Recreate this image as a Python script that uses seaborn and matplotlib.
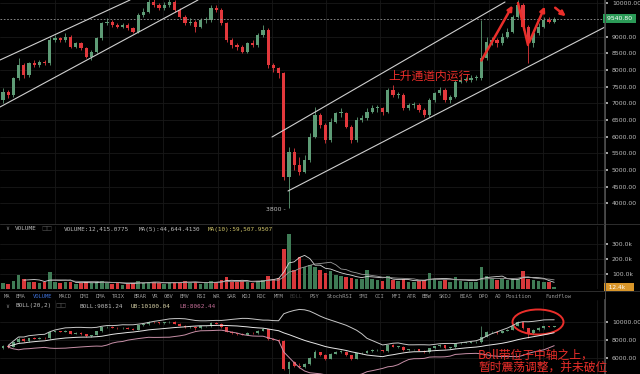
import matplotlib.pyplot as plt
import matplotlib.ticker as mticker
import numpy as np
import pandas as pd
import seaborn as sns
from matplotlib.lines import Line2D
from matplotlib.patches import Ellipse

# ---- data (daily candles, BTC/USDT) ----
first_open = 7100
closes = [7350, 7250, 7750, 8150, 7850, 8200, 8150, 8250, 8200, 8900,
          8950, 8900, 9000, 8700, 8800, 8650, 8400, 8550, 8950, 9400,
          9450, 9350, 9300, 9350, 9250, 9150, 9650, 9750, 10050, 9950,
          9850, 9950, 10050, 9800, 9600, 9400, 9450, 9300, 9500, 9500,
          9850, 9800, 9400, 8900, 8750, 8700, 8550, 8800, 8750, 9050,
          9200, 8150, 8050, 7900, 4800, 5550, 5150, 4950, 5300, 6000,
          6650, 6350, 5900, 6450, 6700, 6700, 6300, 5900, 6500, 6550,
          6750, 6850, 6850, 6750, 7400, 7250, 7250, 6850, 6950, 6950,
          6800, 6650, 7100, 7300, 7400, 7100, 7200, 7650, 7700, 7700,
          7750, 7750, 8350, 8850, 8900, 8800, 9000, 9150, 9600, 9950,
          9300, 8800, 9100, 9300, 9500, 9450, 9540.8]
highs = [7450, 7400, 7800, 8350, 8200, 8250, 8300, 8300, 8300, 9000,
         9050, 9000, 9100, 9050, 8850, 8850, 8700, 8600, 9000, 9450,
         9550, 9500, 9400, 9400, 9400, 9300, 9700, 9850, 10150, 10150,
         10000, 10050, 10150, 10100, 9850, 9650, 9550, 9500, 9550, 9600,
         9950, 9950, 9850, 9450, 8950, 8800, 8750, 8850, 8900, 9100,
         9350, 9250, 8200, 8100, 7950, 5700, 5650, 5400, 5450, 6100,
         6900, 6700, 6400, 6550, 6750, 6850, 6750, 6350, 6600, 6650,
         6850, 6950, 6950, 6900, 7450, 7550, 7350, 7300, 7000, 7050,
         7000, 6850, 7150, 7350, 7500, 7450, 7250, 7700, 7800, 7800,
         7850, 7850, 9500, 9000, 9000, 8950, 9100, 9250, 9650, 10100,
         10000, 9350, 9200, 9400, 9600, 9600, 9600]
lows = [7000, 7150, 7200, 7700, 7750, 7800, 8100, 8100, 8150, 8150,
        8850, 8850, 8850, 8650, 8650, 8600, 8350, 8300, 8500, 8900,
        9350, 9300, 9250, 9250, 9200, 9100, 9100, 9600, 9700, 9900,
        9800, 9800, 9900, 9750, 9550, 9350, 9350, 9150, 9250, 9400,
        9450, 9750, 9350, 8850, 8650, 8600, 8500, 8500, 8700, 8700,
        9000, 8050, 7950, 7750, 4700, 3850, 5000, 4850, 4900, 5250,
        5950, 6250, 5800, 5850, 6400, 6600, 6250, 5800, 5850, 6450,
        6500, 6700, 6750, 6650, 6700, 7200, 7150, 6800, 6800, 6850,
        6750, 6600, 6600, 7050, 7250, 7050, 7000, 7150, 7600, 7650,
        7650, 7700, 7700, 8300, 8750, 8700, 8750, 8950, 9100, 9550,
        9200, 8200, 8700, 9050, 9250, 9400, 9400]
volumes_k = [40, 35, 55, 95, 70, 50, 45, 40, 45, 115,
             50, 40, 45, 50, 35, 40, 45, 40, 50, 55,
             40, 35, 40, 30, 35, 40, 55, 40, 45, 50,
             40, 35, 40, 45, 50, 55, 40, 45, 35, 40,
             55, 45, 60, 80, 50, 45, 55, 50, 40, 55,
             60, 90, 70, 75, 265, 370, 125, 215, 145, 160,
             150, 125, 110, 120, 95, 90, 80, 75, 70, 65,
             125, 70, 60, 55, 85, 60, 55, 65, 50, 50,
             55, 60, 105, 70, 55, 60, 50, 80, 55, 50,
             45, 50, 145, 90, 70, 60, 65, 60, 65, 70,
             120, 70, 60, 55, 50, 45, 12.4]

# 9500 sits under the last-price tag, so it is not labelled
price_ticks = [4000, 4500, 5000, 5500, 6000, 6500, 7000, 7500, 8000, 8500, 9000, 10000]
vol_ticks = [100000, 200000, 300000]
boll_ticks = [6000, 8000, 10000]
last_price = 9540.80
last_volume = 12400
low_mark = 3800

tab_names = ["MA", "EMA", "VOLUME", "MACD", "DMI", "DMA", "TRIX", "BRAR", "VR", "OBV",
             "EMV", "RSI", "WR", "SAR", "KDJ", "ROC", "MTM", "BOLL", "PSY", "StochRSI",
             "SMI", "CCI", "MFI", "ATR", "BBW", "SKDJ", "BIAS", "DPO", "AO", "Position",
             "Fundflow"]
tab_px = [4, 16, 33, 59, 80, 96, 112, 133, 152, 164,
          180, 197, 213, 227, 242, 257, 274, 290, 310, 327,
          359, 375, 392, 407, 422, 439, 459, 479, 495, 506,
          545]

# ---- pixel helpers (layout only) ----
STEP, X0 = 5.2, 3.0
def px_i(px):
    return (px - X0) / STEP

def py_main(py):
    return 4000 + (203.3 - py) * 30

def fx(px):
    return px / 640

def fy(py):
    return 1 - py / 374

UP, DOWN = "#5e9c76", "#e2383c"
VUP, VDOWN = "#3f7c56", "#d8383b"
RED = "#ea2e2a"
TXT = "#bdbdbd"
CJK = ["Noto Sans CJK SC", "DejaVu Sans"]
MONO = "DejaVu Sans Mono"

df = pd.DataFrame({"close": closes, "high": highs, "low": lows,
                   "volume": np.array(volumes_k) * 1000})
df["open"] = [first_open] + closes[:-1]
df["up"] = df["close"] >= df["open"]

sns.set_theme(style="dark", rc={
    "figure.facecolor": "black", "axes.facecolor": "black",
    "axes.edgecolor": "#3a3a3a", "grid.color": "#181818",
    "axes.grid": True, "grid.linewidth": 0.6,
})
plt.rcParams["font.family"] = ["DejaVu Sans"]

fig = plt.figure(figsize=(6.4, 3.74), dpi=100)
ax = fig.add_axes([0, fy(225), fx(605), 225 / 374])
ax_v = fig.add_axes([0, fy(289), fx(605), 63 / 374])
ax_b = fig.add_axes([0, 0, fx(605), 74 / 374])

xlim = (px_i(0), px_i(605))
grid_x = [px_i(p) for p in np.arange(55, 600, 54.2)]


def draw_candles(a, body_w, wick_lw, min_h):
    colors = np.where(df["up"], UP, DOWN)
    a.vlines(df.index, df["low"], df["high"], colors=colors, linewidth=wick_lw)
    bottom = df[["open", "close"]].min(axis=1)
    height = (df["close"] - df["open"]).abs().clip(lower=min_h)
    a.bar(df.index, height, bottom=bottom, width=body_w, color=colors, linewidth=0)


def style_axis(a, ylim, ticks, fmt):
    a.set_xlim(*xlim)
    a.set_ylim(*ylim)
    a.set_xticks(grid_x)
    a.set_yticks(ticks)
    a.yaxis.set_major_formatter(mticker.FuncFormatter(fmt))
    a.yaxis.tick_right()
    a.set_xlabel("")
    a.set_ylabel("")
    a.tick_params(axis="x", labelbottom=False, length=0)
    a.tick_params(axis="y", colors=TXT, labelsize=4.4, length=2, pad=3,
                  labelcolor=TXT)
    for s in ("left", "top", "bottom"):
        a.spines[s].set_visible(False)
    a.spines["right"].set_color("#4a4a4a")
    a.grid(True, color="#181818", linewidth=0.6)


# ---- main price panel ----
draw_candles(ax, 0.62, 0.6, 25)
style_axis(ax, (py_main(225), py_main(0)), price_ticks, lambda v, p: f"{v:.2f}")
ax.axhline(last_price, color="#9a9a9a", linewidth=0.6, linestyle=(0, (2, 2)))
ax.text(1.0, last_price, " 9540.80 ", transform=ax.get_yaxis_transform(),
        fontsize=4.4, color="white", va="center", ha="left",
        bbox=dict(facecolor="#2b9a57", edgecolor="none", pad=1.2), clip_on=False)

# channel lines
channel = [((0, 60), (130, 0)), ((0, 107), (198, 0)),
           ((272, 137), (505, 2)), ((288, 191), (605, 27))]
for (x1, y1), (x2, y2) in channel:
    ax.plot([px_i(x1), px_i(x2)], [py_main(y1), py_main(y2)],
            color="#cfcfcf", linewidth=0.8)

# red zig-zag arrows
arr = dict(arrowstyle="-|>", color=RED, lw=1.8, mutation_scale=7)
ax.annotate("", xy=(px_i(514), py_main(3)), xytext=(px_i(480), py_main(63)),
            arrowprops=arr)
ax.plot([px_i(518), px_i(528)], [py_main(3), py_main(45)], color=RED, linewidth=1.8,
        solid_capstyle="round")
ax.annotate("", xy=(px_i(546), py_main(4)), xytext=(px_i(528), py_main(45)),
            arrowprops=arr)
ax.annotate("", xy=(px_i(568), py_main(18)), xytext=(px_i(553), py_main(6)),
            arrowprops=arr)

ax.text(px_i(266), low_mark, "3800 -", fontsize=4.4, color=TXT, va="center", ha="left")
fig.text(fx(388), fy(76), "上升通道内运行", color=RED, fontsize=8.5, family=CJK,
         va="center", ha="left")

# ---- volume panel ----
vcolors = np.where(df["up"], VUP, VDOWN)
ax_v.bar(df.index, df["volume"], width=0.7, color=vcolors, linewidth=0)
sns.lineplot(x=df.index, y=df["volume"].rolling(5).mean(), ax=ax_v,
             color="#d8d8d8", linewidth=0.6)
sns.lineplot(x=df.index, y=df["volume"].rolling(10).mean(), ax=ax_v,
             color="#9a9a9a", linewidth=0.6)
style_axis(ax_v, (0, 420000), vol_ticks, lambda v, p: f"{v / 1000:.1f}k")
ax_v.text(1.0, last_volume, "  12.4k    ", transform=ax_v.get_yaxis_transform(),
          fontsize=4.2, color="white", va="center", ha="left",
          bbox=dict(facecolor="#d9962a", edgecolor="none", pad=1.0), clip_on=False)

# ---- BOLL panel ----
mid = df["close"].rolling(20, min_periods=2).mean()
sd = df["close"].rolling(20, min_periods=2).std(ddof=0)
draw_candles(ax_b, 0.55, 0.5, 40)
sns.lineplot(x=df.index, y=mid + 2 * sd, ax=ax_b, color="#c8c8c8", linewidth=0.7)
sns.lineplot(x=df.index, y=mid, ax=ax_b, color="#e6e6e6", linewidth=0.7)
sns.lineplot(x=df.index, y=mid - 2 * sd, ax=ax_b, color="#c890a8", linewidth=0.7)
style_axis(ax_b, (4222, 12444), boll_ticks, lambda v, p: f"{v:.2f}")
ax_b.add_patch(Ellipse((px_i(538), 10000), width=51 / STEP, height=25 / 0.009,
                       fill=False, edgecolor=RED, linewidth=1.4, clip_on=False))
fig.text(fx(478), fy(355), "Boll带位于中轴之上，", color=RED, fontsize=8.5,
         family=CJK, va="center", ha="left")
fig.text(fx(478), fy(367), "暂时震荡调整，并未破位", color=RED, fontsize=8.5,
         family=CJK, va="center", ha="left")

# ---- header rows ----
fig.text(fx(5), fy(229), "∨", fontsize=4, color="#888888", va="center")
fig.text(fx(15), fy(229), "VOLUME", fontsize=4.3, color=TXT, family=MONO, va="center")
fig.text(fx(41), fy(229), "□□", fontsize=4.2, color="#555555", va="center")
fig.text(fx(64), fy(229), "VOLUME:12,415.0775", fontsize=4.3, color=TXT,
         family=MONO, va="center")
fig.text(fx(139), fy(229), "MA(5):44,644.4130", fontsize=4.3, color=TXT,
         family=MONO, va="center")
fig.text(fx(208), fy(229), "MA(10):59,507.9507", fontsize=4.3, color="#cfc46a",
         family=MONO, va="center")

for name, px in zip(tab_names, tab_px):
    c = "#3d6fd6" if name == "VOLUME" else ("#3a3a3a" if name == "BOLL" else "#9a9a9a")
    fig.text(fx(px), fy(296), name, fontsize=4.0, color=c, family=MONO, va="center")

fig.text(fx(5), fy(306), "∨", fontsize=4, color="#888888", va="center")
fig.text(fx(15), fy(306), "BOLL(20,2)", fontsize=4.3, color=TXT, family=MONO, va="center")
fig.text(fx(55), fy(306), "□□", fontsize=4.2, color="#555555", va="center")
fig.text(fx(79), fy(306), "BOLL:9081.24", fontsize=4.3, color=TXT, family=MONO, va="center")
fig.text(fx(131), fy(306), "UB:10100.04", fontsize=4.3, color="#d8d2a8", family=MONO,
         va="center")
fig.text(fx(179), fy(306), "LB:8062.44", fontsize=4.3, color="#c8709a", family=MONO,
         va="center")

# separators
for py in (224, 291):
    fig.add_artist(Line2D([0, 1], [fy(py), fy(py)], color="#2e2e2e", linewidth=0.7))
fig.add_artist(Line2D([fx(605), fx(605)], [0, 1], color="#4a4a4a", linewidth=0.7))

fig.savefig("out.png", dpi=100, facecolor="black")
